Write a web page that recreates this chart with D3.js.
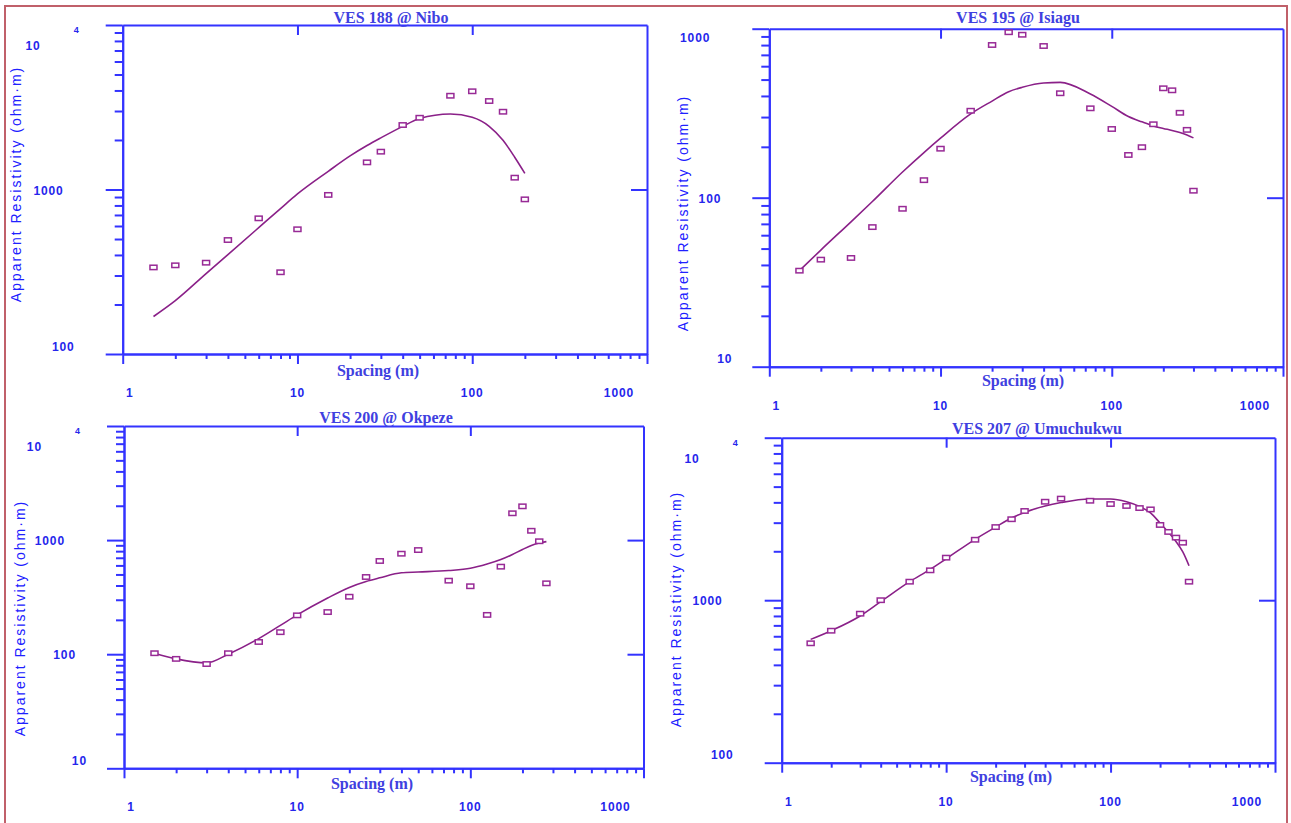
<!DOCTYPE html>
<html>
<head>
  <meta charset="utf-8">
  <title>VES sounding curves</title>
  <script src="https://d3js.org/d3.v7.min.js"></script>
  <style>
    body { margin: 0; background: #fff; }
    svg { display: block; }
    .axis .domain, .axis line { stroke: #3333ff; stroke-width: 2; }
    .tlab { font-family: "Liberation Sans", Arial, sans-serif; font-weight: bold; font-size: 12px; fill: #2626ec; letter-spacing: 0.9px; }
    .ytitle { font-family: "Liberation Sans", Arial, sans-serif; font-size: 14px; fill: #2020ff; letter-spacing: 2px; }
    .ptitle { font-family: "Liberation Serif", "Times New Roman", serif; font-weight: bold; font-size: 16px; fill: #4040e0; }
  </style>
</head>
<body>
<svg id="chart"></svg>
<script>
// electrode spacing AB/2 (m) and apparent resistivity (ohm.m)
var spacing188 = [1.5, 2, 3, 4, 6, 8, 10, 15, 25, 30, 40, 50, 75, 100, 125, 150, 175, 200];
var rho188     = [336, 346, 359, 493, 668, 314, 573, 927, 1462, 1698, 2466, 2730, 3715, 3954, 3450, 2970, 1180, 871];
var model188X  = [1.5, 2, 3, 4, 6, 8, 10, 15, 20, 25, 30, 40, 50, 75, 100, 125, 150, 175, 200];
var model188   = [169, 211, 308, 402, 586, 766, 940, 1290, 1600, 1850, 2060, 2420, 2700, 2880, 2747, 2421, 1990, 1571, 1253];

var spacing195 = [1.5, 2, 3, 4, 6, 8, 10, 15, 20, 25, 30, 40, 50, 75, 100, 125, 150, 175, 200, 225, 250, 275, 300];
var rho195     = [37, 43, 44, 67, 86, 127, 195, 327, 801, 953, 921, 790, 415, 338, 255, 179, 199, 272, 444, 432, 318, 252, 110];
var model195   = [37, 49, 72, 95, 142, 185, 225, 313, 373, 424, 450, 477, 481, 411, 347, 302, 281, 266, 257, 250, 243, 235, 226];

var spacing200 = [1.5, 2, 3, 4, 6, 8, 10, 15, 20, 25, 30, 40, 50, 75, 100, 125, 150, 175, 200, 225, 250, 275];
var rho200     = [102, 91, 82, 102, 128, 156, 219, 234, 319, 475, 656, 760, 818, 441, 394, 221, 585, 1718, 1977, 1207, 977, 418];
var model200   = [102, 91, 84, 100, 137, 179, 221, 311, 385, 434, 467, 517, 525, 541, 566, 617, 676, 748, 827, 897, 944, 969];

var spacing207 = [1.5, 2, 3, 4, 6, 8, 10, 15, 20, 25, 30, 40, 50, 75, 100, 125, 150, 175, 200, 225, 250, 275, 300];
var rho207     = [543, 649, 826, 1000, 1300, 1527, 1827, 2355, 2818, 3150, 3540, 4036, 4218, 4093, 3908, 3802, 3690, 3620, 2904, 2631, 2427, 2259, 1300];
var model207   = [574, 649, 800, 979, 1300, 1549, 1798, 2370, 2818, 3206, 3470, 3802, 3990, 4197, 4197, 4036, 3776, 3443, 2985, 2612, 2296, 1982, 1630];

var spacingRange = [1, 1000];

// one entry per panel: data + where it sits on the page
var panels = [
  { title: "VES 188 @ Nibo", obsX: spacing188, obs: rho188, modX: model188X, mod: model188,
    yDomain: [100, 10000], box: [122.7, 25, 647, 354], titleAt: [391, 17], xTitleAt: [378, 370], yTitleAt: [16, 184] },
  { title: "VES 195 @ Isiagu", obsX: spacing195, obs: rho195, modX: spacing195, mod: model195,
    yDomain: [10, 1000], box: [769.3, 28.7, 1283, 366.7], titleAt: [1018, 17], xTitleAt: [1023, 380], yTitleAt: [683, 213] },
  { title: "VES 200 @ Okpeze", obsX: spacing200, obs: rho200, modX: spacing200, mod: model200,
    yDomain: [10, 10000], box: [124, 426, 643.5, 768.3], titleAt: [386, 417], xTitleAt: [372, 783], yTitleAt: [20, 618] },
  { title: "VES 207 @ Umuchukwu", obsX: spacing207, obs: rho207, modX: spacing207, mod: model207,
    yDomain: [100, 10000], box: [781.7, 437.7, 1275, 762.7], titleAt: [1037, 428], xTitleAt: [1011, 776], yTitleAt: [676, 609] }
];

var W = 1291, H = 823;
var svg = d3.select("#chart").attr("width", W).attr("height", H);

// outer figure border
svg.append("rect")
   .attr("x", 5).attr("y", 6).attr("width", 1282).attr("height", 830)
   .attr("fill", "none").attr("stroke", "#c0606a").attr("stroke-width", 2);

function isMajor(v) {
  var l = Math.log10(v);
  return Math.abs(l - Math.round(l)) < 1e-9;
}

function drawPanel(p) {
  var L = p.box[0], T = p.box[1], R = p.box[2], B = p.box[3];
  var g = svg.append("g");

  var x = d3.scaleLog().domain(spacingRange).range([L, R]);
  var y = d3.scaleLog().domain(p.yDomain).range([B, T]);

  var xt = x.ticks(), yt = y.ticks();
  var xMinor = xt.filter(function(v) { return !isMajor(v); });
  var xMajor = xt.filter(isMajor);
  var yMinor = yt.filter(function(v) { return !isMajor(v); });
  var yMajor = yt.filter(isMajor);
  var xInner = xMajor.slice(1, -1), yInner = yMajor.slice(1, -1);

  // left axis: outward ticks, long at decades
  g.append("g").attr("class", "axis").attr("transform", "translate(" + L + ",0)")
   .call(d3.axisLeft(y).tickValues(yMinor).tickSize(8).tickSizeOuter(0).tickFormat(""));
  g.append("g").attr("class", "axis").attr("transform", "translate(" + L + ",0)")
   .call(d3.axisLeft(y).tickValues(yMajor).tickSize(17).tickSizeOuter(0).tickFormat(""));

  // bottom axis
  g.append("g").attr("class", "axis").attr("transform", "translate(0," + B + ")")
   .call(d3.axisBottom(x).tickValues(xMinor).tickSize(5).tickSizeOuter(0).tickFormat(""));
  g.append("g").attr("class", "axis").attr("transform", "translate(0," + B + ")")
   .call(d3.axisBottom(x).tickValues(xMajor).tickSize(10).tickSizeOuter(0).tickFormat(""));

  // top and right: only inward decade ticks
  g.append("g").attr("class", "axis").attr("transform", "translate(0," + T + ")")
   .call(d3.axisTop(x).tickValues(xInner).tickSize(-10).tickSizeOuter(0).tickFormat(""));
  g.append("g").attr("class", "axis").attr("transform", "translate(" + R + ",0)")
   .call(d3.axisRight(y).tickValues(yInner).tickSize(-16).tickSizeOuter(0).tickFormat(""));

  // y tick labels
  yMajor.forEach(function(v) {
    var py = y(v);
    if (v === 10000) {
      g.append("text").attr("class", "tlab").attr("x", L - 82).attr("y", py + 21)
       .attr("text-anchor", "end").attr("dominant-baseline", "central").text("10");
      g.append("text").attr("class", "tlab").attr("x", L - 46).attr("y", py + 5)
       .attr("text-anchor", "middle").attr("dominant-baseline", "central")
       .style("font-size", "9px").text("4");
    } else {
      var s = String(v);
      var dy = Math.abs(py - B) < 1 ? -7.5 : (Math.abs(py - T) < 1 ? 9 : 1);
      g.append("text").attr("class", "tlab").attr("x", L - (15 + 11 * s.length)).attr("y", py + dy)
       .attr("text-anchor", "end").attr("dominant-baseline", "central").text(s);
    }
  });

  // x tick labels
  xMajor.forEach(function(v) {
    var px = x(v) + (v === 1 ? 7 : (v === 1000 ? -28 : 0));
    g.append("text").attr("class", "tlab").attr("x", px).attr("y", B + 39)
     .attr("text-anchor", "middle").attr("dominant-baseline", "central").text(String(v));
  });

  // titles
  g.append("text").attr("class", "ptitle").attr("x", p.titleAt[0]).attr("y", p.titleAt[1])
   .attr("text-anchor", "middle").attr("dominant-baseline", "central").text(p.title);
  g.append("text").attr("class", "ptitle").attr("x", p.xTitleAt[0]).attr("y", p.xTitleAt[1])
   .attr("text-anchor", "middle").attr("dominant-baseline", "central").text("Spacing (m)");
  g.append("text").attr("class", "ytitle")
   .attr("transform", "translate(" + p.yTitleAt[0] + "," + p.yTitleAt[1] + ") rotate(-90)")
   .attr("text-anchor", "middle").attr("dominant-baseline", "central")
   .text("Apparent Resistivity (ohm\u00b7m)");

  // model curve
  var line = d3.line()
    .x(function(d) { return x(d[0]); })
    .y(function(d) { return y(d[1]); })
    .curve(d3.curveMonotoneX);
  g.append("path")
   .datum(d3.zip(p.modX, p.mod))
   .attr("d", line)
   .attr("fill", "none").attr("stroke", "#8a2088").attr("stroke-width", 1.6);

  // observed points
  g.selectAll("rect.obs")
   .data(d3.zip(p.obsX, p.obs))
   .enter().append("rect")
   .attr("class", "obs")
   .attr("x", function(d) { return x(d[0]) - 3.5; })
   .attr("y", function(d) { return y(d[1]) - 2.2; })
   .attr("width", 7).attr("height", 4.4)
   .attr("fill", "#fff").attr("stroke", "#982a96").attr("stroke-width", 1.5);
}

panels.forEach(drawPanel);
</script>
</body>
</html>
